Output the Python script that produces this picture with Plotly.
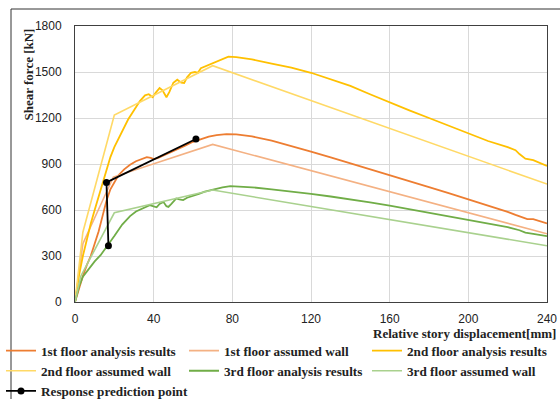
import plotly.graph_objects as go

# ---------------- data ----------------
f1_res_x = [0, 2, 4, 6, 8, 10, 12, 14, 16, 18, 20, 22, 25, 28, 31, 34, 36.5, 38.5, 40, 42, 45, 48, 52, 56, 60, 64, 68, 72, 77, 82, 90, 100, 110, 120, 130, 140, 150, 160, 170, 180, 190, 200, 210, 220, 224, 227, 230, 233, 237, 240]
f1_res_y = [0, 90, 170, 240, 300, 380, 460, 560, 660, 735, 785, 825, 865, 895, 918, 935, 945, 940, 932, 938, 955, 970, 995, 1020, 1045, 1063, 1078, 1088, 1095, 1093, 1080, 1052, 1018, 980, 943, 905, 866, 828, 788, 749, 710, 670, 630, 588, 568, 552, 540, 540, 527, 513]

f1_wall_x = [0, 4, 19.5, 70, 240]
f1_wall_y = [0, 380, 815, 1028, 445]

f2_res_x = [0, 2, 4, 6, 8, 10, 12, 14, 16, 18, 20, 23, 27, 30, 33, 35.6, 37.5, 39.5, 41, 43, 44.5, 46.5, 48, 50, 52, 54, 55.5, 57, 59, 61, 62.5, 64, 66, 68, 70, 72, 74, 76, 78, 82, 90, 100, 110, 120, 130, 140, 150, 160, 170, 180, 190, 200, 210, 220, 224, 226, 229, 233, 237, 240]
f2_res_y = [0, 170, 300, 410, 510, 600, 690, 780, 870, 945, 1010, 1090, 1190, 1250, 1310, 1348, 1355, 1335, 1365, 1395, 1380, 1335, 1370, 1430, 1450, 1430, 1428, 1465, 1495, 1500, 1495, 1525, 1535, 1545, 1560, 1568, 1575, 1590, 1600, 1597, 1582, 1555, 1528, 1495, 1455, 1410, 1355, 1300, 1250, 1200, 1150, 1100, 1050, 1010, 990, 965, 935, 925, 905, 887]

f2_wall_x = [0, 4, 20, 70, 240]
f2_wall_y = [0, 455, 1219, 1541, 769]

f3_res_x = [0, 2, 4, 6, 8, 10, 13, 15, 17, 20, 24, 28, 31, 35, 38, 40, 41.5, 43, 45, 46.5, 47.5, 49, 51.5, 53, 55, 57, 60, 63, 66, 69, 72, 75, 79, 84, 90, 100, 110, 120, 130, 140, 150, 160, 170, 180, 190, 200, 210, 220, 226, 229, 233, 237, 240]
f3_res_y = [0, 100, 165, 200, 235, 265, 305, 340, 372, 430, 505, 560, 590, 615, 632, 624, 618, 640, 652, 625, 620, 640, 675, 670, 665, 680, 690, 705, 720, 730, 741, 748, 756, 752, 748, 735, 722, 705, 688, 670, 650, 628, 605, 582, 558, 535, 512, 488, 468, 452, 445, 435, 430]

f3_wall_x = [0, 3, 20, 70, 240]
f3_wall_y = [0, 170, 582, 730, 367]

resp_x = [17, 16, 61.5]
resp_y = [367, 780, 1063]

x_ticks = [0, 40, 80, 120, 160, 200, 240]
y_ticks = [0, 300, 600, 900, 1200, 1500, 1800]

# ---------------- figure ----------------
fig = go.Figure()

series = [
    ("1st floor analysis results", f1_res_x, f1_res_y, "#ED7D31", 1.8),
    ("1st floor assumed wall", f1_wall_x, f1_wall_y, "#F4B183", 1.6),
    ("2nd floor analysis results", f2_res_x, f2_res_y, "#FFC000", 1.8),
    ("2nd floor assumed wall", f2_wall_x, f2_wall_y, "#FFD966", 1.6),
    ("3rd floor analysis results", f3_res_x, f3_res_y, "#70AD47", 1.8),
    ("3rd floor assumed wall", f3_wall_x, f3_wall_y, "#A9D18E", 1.6),
]
for name, xs, ys, col, w in series:
    fig.add_trace(go.Scatter(x=xs, y=ys, mode="lines", name="<b>" + name + "</b>",
                             line=dict(color=col, width=w)))

fig.add_trace(go.Scatter(x=resp_x, y=resp_y, mode="lines+markers",
                         name="<b>Response prediction point</b>",
                         line=dict(color="black", width=1.8),
                         marker=dict(color="black", size=7)))

W, H = 560, 399
L, R, T, B = 75, 13, 26, 97
pw, ph = W - L - R, H - T - B

def px(xp):
    return (xp - L) / pw

def py(yp):
    return (H - B - yp) / ph

serif = "Liberation Serif, Times New Roman, serif"
sans = "Liberation Sans, Arial, sans-serif"

fig.update_layout(
    width=W, height=H,
    margin=dict(l=L, r=R, t=T, b=B, autoexpand=False),
    paper_bgcolor="white", plot_bgcolor="white",
    showlegend=True,
    legend=dict(
        orientation="h", x=px(1), xanchor="left", y=py(335.5), yanchor="top",
        entrywidth=138, entrywidthmode="pixels",
        font=dict(family=serif, size=13.2, color="#222"),
        itemwidth=30, bgcolor="rgba(0,0,0,0)",
    ),
    xaxis=dict(range=[0, 240], tickvals=x_ticks, ticktext=[str(v) for v in x_ticks],
               showgrid=True, gridcolor="#d9d9d9", gridwidth=1,
               showline=True, linecolor="#404040", linewidth=1, mirror=True,
               ticks="", zeroline=False,
               tickfont=dict(family=sans, size=12, color="#222"),
               ticklabelstandoff=6),
    yaxis=dict(range=[0, 1800], tickvals=y_ticks, ticktext=[str(v) for v in y_ticks],
               showgrid=True, gridcolor="#d9d9d9", gridwidth=1,
               showline=True, linecolor="#404040", linewidth=1, mirror=True,
               ticks="", zeroline=False,
               tickfont=dict(family=sans, size=12, color="#222"),
               ticklabelstandoff=10),
    annotations=[
        dict(text="<b>Shear force [kN]</b>", xref="paper", yref="paper",
             x=px(28), y=py(74.5), xanchor="center", yanchor="middle",
             textangle=-90, showarrow=False,
             font=dict(family=serif, size=13, color="#222")),
        dict(text="<b>Relative story displacement[mm]</b>", xref="paper", yref="paper",
             x=px(558), y=py(333), xanchor="right", yanchor="middle",
             showarrow=False, font=dict(family=serif, size=13, color="#222")),
    ],
    shapes=[
        dict(type="rect", xref="paper", yref="paper",
             x0=px(11), x1=px(600), y0=py(450), y1=py(9),
             line=dict(color="#333", width=1), fillcolor="rgba(0,0,0,0)", layer="below"),
    ],
)

fig.write_html("out.html")
